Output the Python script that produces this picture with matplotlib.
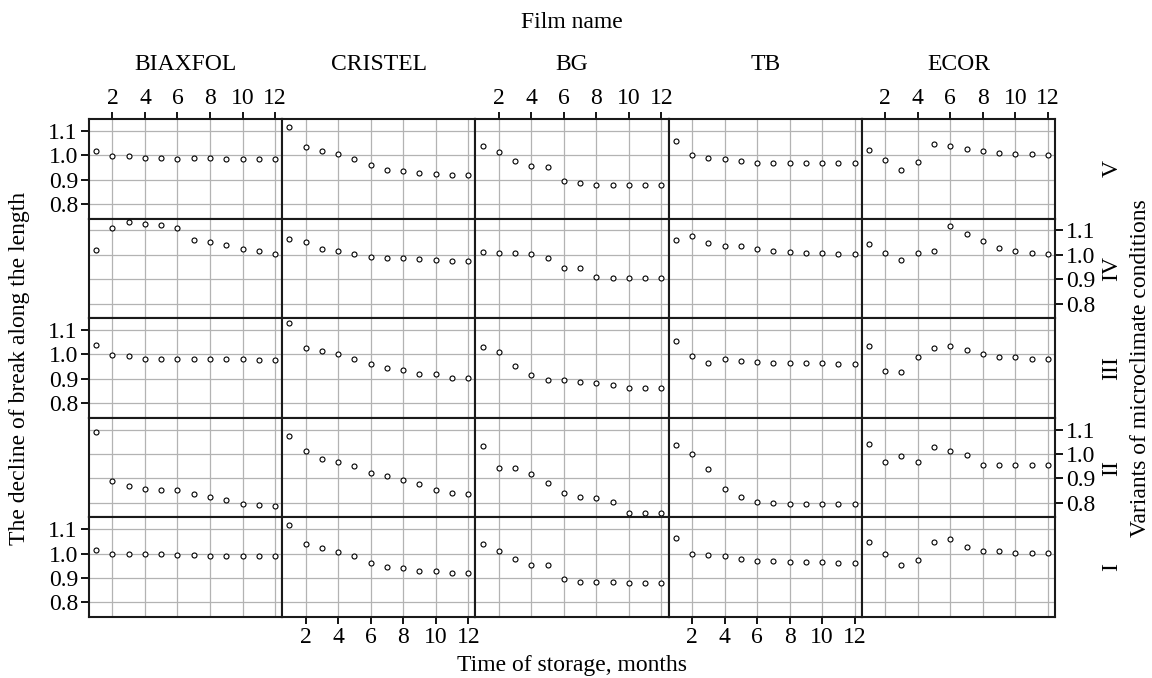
import matplotlib
matplotlib.use("Agg")
import matplotlib.pyplot as plt

plt.rcParams["font.family"] = ["Liberation Serif", "DejaVu Serif"]

MONTHS = list(range(1, 13))
FILMS = ["BIAXFOL", "CRISTEL", "BG", "TB", "ECOR"]
VARIANTS = ["V", "IV", "III", "II", "I"]   # panel rows, top to bottom
XTICKS = [2, 4, 6, 8, 10, 12]
YTICKS = [0.8, 0.9, 1.0, 1.1]

# decline of break values, one list per variant (V, IV, III, II, I)
BIAXFOL = [
    [1.018, 0.995, 0.995, 0.989, 0.989, 0.985, 0.989, 0.989, 0.985, 0.985, 0.985, 0.985],
    [1.021, 1.111, 1.134, 1.126, 1.121, 1.111, 1.059, 1.053, 1.040, 1.025, 1.015, 1.001],
    [1.040, 0.997, 0.992, 0.982, 0.982, 0.982, 0.982, 0.982, 0.982, 0.982, 0.978, 0.978],
    [1.090, 0.889, 0.870, 0.856, 0.851, 0.851, 0.837, 0.822, 0.812, 0.795, 0.789, 0.785],
    [1.016, 0.999, 0.999, 0.999, 0.999, 0.995, 0.995, 0.989, 0.989, 0.989, 0.989, 0.989],
]
CRISTEL = [
    [1.114, 1.033, 1.018, 1.004, 0.985, 0.960, 0.941, 0.937, 0.927, 0.922, 0.918, 0.918],
    [1.063, 1.053, 1.025, 1.015, 1.005, 0.992, 0.986, 0.986, 0.981, 0.977, 0.973, 0.973],
    [1.130, 1.025, 1.015, 1.003, 0.982, 0.959, 0.944, 0.934, 0.921, 0.921, 0.901, 0.901],
    [1.075, 1.014, 0.981, 0.966, 0.952, 0.923, 0.910, 0.895, 0.875, 0.851, 0.841, 0.837],
    [1.118, 1.037, 1.022, 1.007, 0.989, 0.960, 0.945, 0.940, 0.930, 0.930, 0.922, 0.922],
]
BG = [
    [1.037, 1.014, 0.975, 0.956, 0.951, 0.895, 0.885, 0.879, 0.879, 0.879, 0.879, 0.879],
    [1.011, 1.007, 1.007, 1.001, 0.988, 0.944, 0.944, 0.910, 0.905, 0.905, 0.905, 0.905],
    [1.030, 1.011, 0.953, 0.915, 0.896, 0.896, 0.886, 0.882, 0.873, 0.863, 0.863, 0.863],
    [1.033, 0.942, 0.942, 0.918, 0.879, 0.841, 0.822, 0.818, 0.803, 0.760, 0.760, 0.756],
    [1.037, 1.012, 0.979, 0.955, 0.951, 0.897, 0.884, 0.884, 0.884, 0.878, 0.878, 0.878],
]
TB = [
    [1.056, 0.999, 0.989, 0.985, 0.975, 0.966, 0.966, 0.966, 0.966, 0.966, 0.966, 0.966],
    [1.059, 1.078, 1.049, 1.036, 1.036, 1.025, 1.015, 1.011, 1.007, 1.007, 1.001, 1.001],
    [1.053, 0.992, 0.963, 0.982, 0.973, 0.968, 0.963, 0.963, 0.963, 0.963, 0.959, 0.959],
    [1.038, 1.000, 0.937, 0.856, 0.822, 0.803, 0.799, 0.795, 0.795, 0.795, 0.795, 0.795],
    [1.064, 0.999, 0.993, 0.989, 0.979, 0.970, 0.970, 0.964, 0.964, 0.964, 0.960, 0.960],
]
ECOR = [
    [1.019, 0.979, 0.938, 0.970, 1.044, 1.038, 1.025, 1.015, 1.010, 1.004, 1.004, 0.999],
    [1.045, 1.007, 0.977, 1.007, 1.016, 1.116, 1.084, 1.055, 1.026, 1.016, 1.007, 1.001],
    [1.036, 0.930, 0.926, 0.988, 1.026, 1.036, 1.016, 1.003, 0.988, 0.988, 0.982, 0.982],
    [1.042, 0.966, 0.990, 0.966, 1.029, 1.014, 0.995, 0.956, 0.956, 0.956, 0.956, 0.956],
    [1.049, 0.999, 0.955, 0.974, 1.049, 1.059, 1.026, 1.012, 1.012, 1.003, 1.003, 1.003],
]
DATA = [BIAXFOL, CRISTEL, BG, TB, ECOR]

W, H = 1152, 678
L, R, T, B = 89, 1055, 119, 617   # panel block edges in pixels
FS_TICK = 17
FS_LAB = 17


def main():
    fig, axes = plt.subplots(5, 5, figsize=(W / 100, H / 100), dpi=100)
    fig.subplots_adjust(left=L / W, right=R / W, top=1 - T / H, bottom=1 - B / H,
                        wspace=0, hspace=0)

    for r in range(5):
        for c in range(5):
            ax = axes[r, c]
            ax.plot(MONTHS, DATA[c][r], ls="none", marker="o", ms=3.6,
                    mfc="white", mec="black", mew=0.8, zorder=3)
            ax.set_xlim(0.56, 12.44)
            ax.set_ylim(0.74, 1.148)
            ax.set_xticks(XTICKS)
            ax.set_yticks(YTICKS)
            ax.set_yticklabels([f"{v:.1f}" for v in YTICKS])
            ax.grid(True, color="#b3b3b3", lw=0.9)
            ax.set_axisbelow(True)
            for s in ax.spines.values():
                s.set_linewidth(1.5)
                s.set_color("#1a1a1a")
            ax.tick_params(axis="both", length=0, labelbottom=False, labeltop=False,
                           labelleft=False, labelright=False, labelsize=FS_TICK)

            # alternating lattice-style axes
            if r == 0 and c % 2 == 0:
                ax.tick_params(axis="x", top=True, bottom=False, labeltop=True,
                               length=5, width=1.3, pad=2)
            if r == 4 and c % 2 == 1:
                ax.tick_params(axis="x", bottom=True, top=False, labelbottom=True,
                               length=5, width=1.3, pad=2)
            if c == 0 and r % 2 == 0:
                ax.tick_params(axis="y", left=True, right=False, labelleft=True,
                               length=6, width=1.3, pad=2)
            if c == 4 and r % 2 == 1:
                ax.tick_params(axis="y", right=True, left=False, labelright=True,
                               length=6, width=1.3, pad=2)

    colw = (R - L) / 5
    rowh = (B - T) / 5
    for c, name in enumerate(FILMS):
        fig.text((L + colw * (c + 0.5)) / W, 1 - 65 / H, name, ha="center",
                 va="center", fontsize=FS_LAB)
    for r, name in enumerate(VARIANTS):
        fig.text(1112 / W, 1 - (T + rowh * (r + 0.5)) / H, name, rotation=90,
                 ha="center", va="center", fontsize=FS_LAB)

    mid = 1 - (T + B) / 2 / H
    fig.text((L + R) / 2 / W, 1 - 22 / H, "Film name", ha="center", va="center",
             fontsize=FS_LAB)
    fig.text((L + R) / 2 / W, 1 - 665 / H, "Time of storage, months", ha="center",
             va="center", fontsize=FS_LAB)
    fig.text(20 / W, mid, "The decline of break along the length", rotation=90,
             ha="center", va="center", fontsize=FS_LAB)
    fig.text(1140 / W, mid, "Variants of microclimate conditions", rotation=90,
             ha="center", va="center", fontsize=FS_LAB)

    fig.savefig("out.png", dpi=100, facecolor="white")
    plt.close(fig)


if __name__ == "__main__":
    main()
